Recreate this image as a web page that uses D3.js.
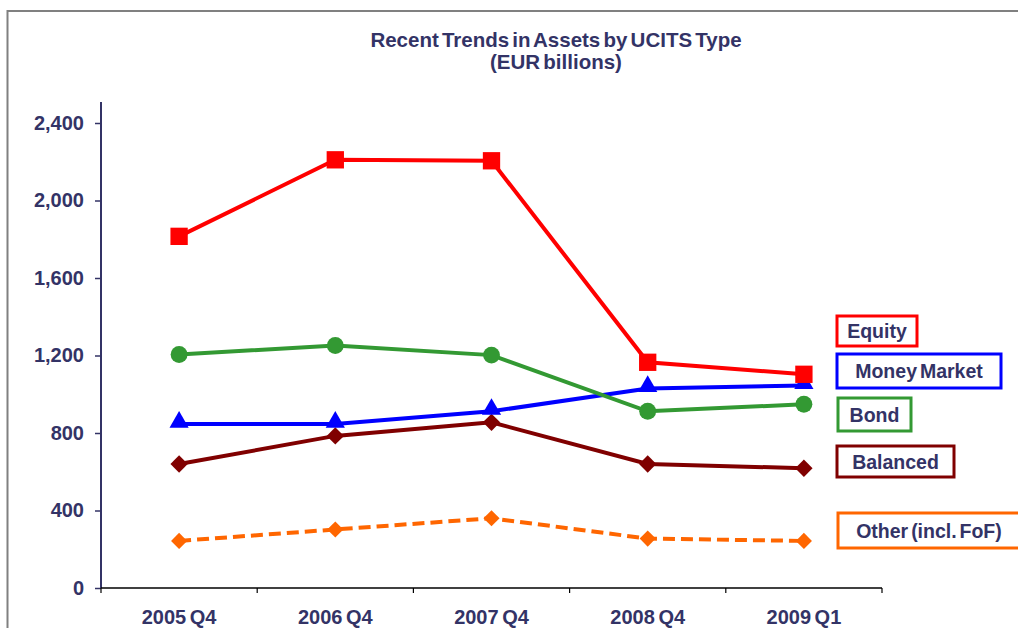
<!DOCTYPE html>
<html><head><meta charset="utf-8">
<script src="https://cdn.jsdelivr.net/npm/d3@7/dist/d3.min.js"></script>
<style>
body{margin:0;background:#fff;}
svg{display:block;font-family:"Liberation Sans",Arial,sans-serif;font-weight:bold;}
</style></head>
<body>
<svg id="chart" width="1018" height="628"></svg>
<script>
const categories = ["2005 Q4","2006 Q4","2007 Q4","2008 Q4","2009 Q1"];
const equity      = [1815, 2210, 2205, 1165, 1103];
const moneyMarket = [846, 846, 912, 1030, 1045];
const bond        = [1205, 1252, 1202, 912, 948];
const balanced    = [640, 785, 855, 640, 618];
const other       = [243, 302, 360, 255, 243];
const yTicks = [0,400,800,1200,1600,2000,2400];
const seriesNames = ["Equity","Money Market","Bond","Balanced","Other (incl. FoF)"];
const seriesColors = ["#FF0000","#0000FF","#339933","#800000","#FF6600"];

const svg = d3.select("#chart");
const textColor = "#333366";

// frame
svg.append("path").attr("d","M7.5,628 L7.5,11 L1018,11").attr("fill","none").attr("stroke","#808080").attr("stroke-width",2);

// title
const title = svg.append("text").attr("x",556).attr("text-anchor","middle").attr("fill",textColor)
  .style("font-size","20.5px").style("word-spacing","-2.5px");
title.append("tspan").attr("x",556).attr("y",47).text("Recent Trends in Assets by UCITS Type");
title.append("tspan").attr("x",556).attr("y",69).text("(EUR billions)");

const x = d3.scaleBand().domain(categories).range([101,882]);
const y = d3.scaleLinear().domain([0,2400]).range([588,123]);

// y axis
const yAxis = d3.axisLeft(y).tickValues(yTicks).tickFormat(d3.format(",")).tickSize(6).tickPadding(11);
const gy = svg.append("g").attr("transform","translate(101,0)").call(yAxis);
gy.select(".domain").remove();
gy.append("line").attr("x1",0).attr("x2",0).attr("y1",102).attr("y2",588).attr("stroke",textColor).attr("stroke-width",2);
gy.selectAll(".tick line").attr("stroke",textColor).attr("stroke-width",1.5);
gy.selectAll(".tick text").attr("fill",textColor).style("font-size","20px").style("font-family","Liberation Sans, Arial").style("font-weight","bold");

// x axis
const gx = svg.append("g").attr("transform","translate(0,588)");
gx.append("line").attr("x1",101).attr("x2",882).attr("stroke","#000").attr("stroke-width",1.5);
const edges = categories.map(c=>x(c)).concat([x.range()[1]]);
gx.selectAll(".xt").data(edges).join("line").attr("class","xt")
  .attr("x1",d=>d).attr("x2",d=>d).attr("y1",0).attr("y2",5).attr("stroke","#000").attr("stroke-width",1.2);
gx.selectAll(".xl").data(categories).join("text").attr("class","xl")
  .attr("x",d=>x(d)+x.bandwidth()/2).attr("y",36).attr("text-anchor","middle")
  .attr("fill",textColor).style("font-size","20px").style("word-spacing","-2px").text(d=>d);

const cx = c => x(c)+x.bandwidth()/2;
const line = d3.line().x((d,i)=>cx(categories[i])).y(d=>y(d));

const allSeries = [equity, moneyMarket, bond, balanced, other];
const markers = ["square","triangle","circle","diamond","diamond"];
const markerSize = [300, 160, 225, 150, 130];
const symType = {square:d3.symbolSquare, triangle:d3.symbolTriangle, circle:d3.symbolCircle, diamond:d3.symbolSquare};

// draw order: other, balanced, money market, bond, equity
[4,3,1,2,0].forEach(k=>{
  const vals = allSeries[k];
  svg.append("path").datum(vals).attr("d",line).attr("fill","none")
    .attr("stroke",seriesColors[k]).attr("stroke-width",4)
    .attr("stroke-dasharray", k===4 ? "12,6" : null);
  svg.selectAll(".m"+k).data(vals).join("path").attr("class","m"+k)
    .attr("transform",(d,i)=>`translate(${cx(categories[i])},${y(d)})` + (markers[k]==="diamond" ? " rotate(45)" : "") + (markers[k]==="triangle" ? " translate(0,-2)" : ""))
    .attr("d",d3.symbol().type(symType[markers[k]]).size(markerSize[k]))
    .attr("fill",seriesColors[k]);
});

// legend boxes
const legendBoxes = [
  {x:837,y:316,w:80,h:30},
  {x:837,y:354,w:164,h:34},
  {x:838,y:398,w:73,h:33},
  {x:837,y:446,w:117,h:31},
  {x:838,y:513,w:182,h:35}
];
legendBoxes.forEach((b,k)=>{
  svg.append("rect").attr("x",b.x).attr("y",b.y).attr("width",b.w).attr("height",b.h)
    .attr("fill","#fff").attr("stroke",seriesColors[k]).attr("stroke-width",3);
  svg.append("text").attr("x",b.x+b.w/2).attr("y",b.y+b.h/2+7).attr("text-anchor","middle")
    .attr("fill",textColor).style("font-size","19.5px").style("word-spacing","-2.5px").text(seriesNames[k]);
});
</script>
</body></html>
